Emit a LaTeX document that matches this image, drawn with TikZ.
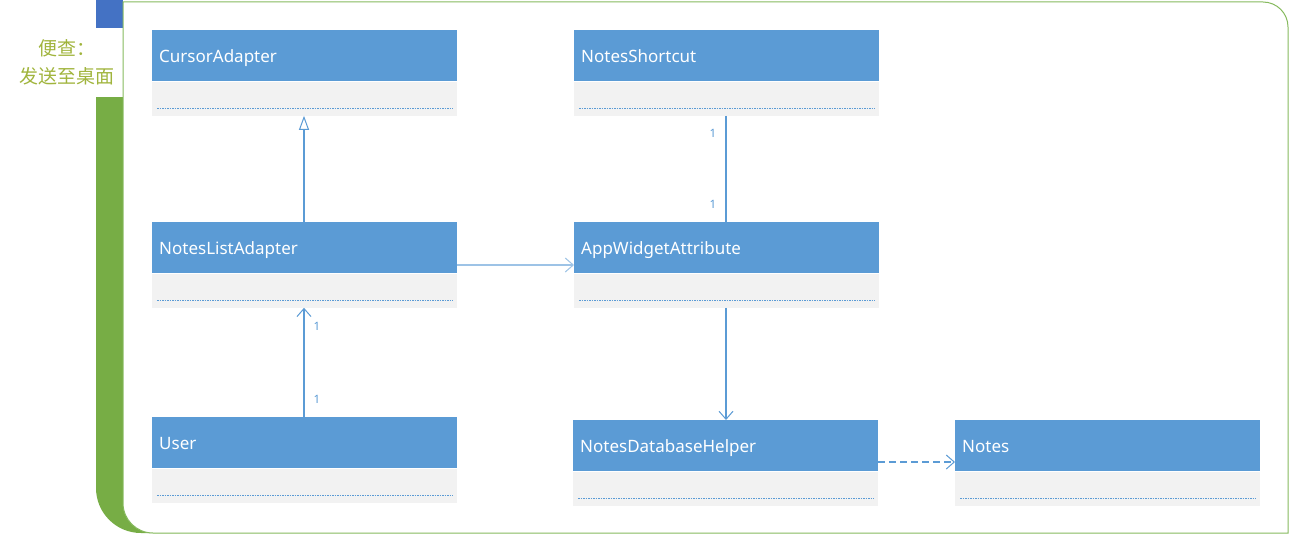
\documentclass[tikz,border=0pt]{standalone}
\usepackage{fontspec}
\setmainfont{Noto Sans}
\newfontfamily\cjk{Noto Sans CJK SC}
\usetikzlibrary{arrows.meta}
\definecolor{hdr}{HTML}{5B9BD5}
\definecolor{cmp}{HTML}{F2F2F2}
\definecolor{lnk}{HTML}{5B9BD5}
\definecolor{lnklight}{HTML}{9DC3E6}
\definecolor{frgreen}{HTML}{77AD45}
\definecolor{frline}{HTML}{86BA5E}
\definecolor{frblue}{HTML}{4472C4}
\definecolor{cjkcol}{RGB}{160,180,60}
\tikzset{
  hdrbox/.style={rectangle, fill=hdr, draw=none, anchor=north west, minimum width=305pt, minimum height=51pt, inner sep=0pt},
  hdrtext/.style={anchor=base west, text=white, font=\fontsize{17}{20}\selectfont, inner sep=0pt},
  cmpbox/.style={rectangle, fill=cmp, draw=none, anchor=north west, minimum width=305pt, minimum height=34pt, inner sep=0pt},
  sep/.style={draw=lnk, line width=0.9pt, dash pattern=on 1.5pt off 1pt},
  conn/.style={draw=lnk, line width=1.1pt},
  openarr/.style={-{Straight Barb[length=8pt,width=14pt,line width=1pt]}},
  genarr/.style={-{Triangle[open,length=14pt,width=10pt,line width=1pt,fill=white]}},
  mult/.style={text=lnk, font=\fontsize{11.5}{12}\selectfont, inner sep=0pt}
}
\newcommand{\umlclass}[4]{%
  \node[hdrbox] (#1) at (#2,#3) {};
  \node[hdrtext] (#1-t) at ([xshift=7pt,yshift=-6.5pt]#1.west) {#4};
  \node[cmpbox] (#1-c) at (#1.south west) {};
  \draw[sep] ([xshift=5pt,yshift=7pt]#1-c.south west) -- ([xshift=-5pt,yshift=7pt]#1-c.south east);
}
\begin{document}
\begin{tikzpicture}[x=1pt,y=-1pt]
\useasboundingbox (0,0) rectangle (1292,535);
% frame
\fill[frblue] (96,0) rectangle (123,28);
\fill[frgreen] (96,97) -- (96,488) .. controls (96,512.9) and (116.1,533) .. (141,533) -- (180,533) -- (180,97) -- cycle;
\filldraw[fill=white, draw=frline, line width=1pt] (123,2) -- (1263,2) .. controls (1276.8,2) and (1288,13.2) .. (1288,27) -- (1288,533) -- (153,533) .. controls (136.4,533) and (123,519.6) .. (123,503) -- cycle;
\node[text=cjkcol, font=\cjk\fontsize{19}{28}\selectfont, align=center, inner sep=0pt] (lbl) at (66.5,62) {便查：\\发送至桌面};
% classes
\umlclass{ca}{152}{30}{CursorAdapter}
\umlclass{ns}{574}{30}{NotesShortcut}
\umlclass{nla}{152}{222}{NotesListAdapter}
\umlclass{awa}{574}{222}{AppWidgetAttribute}
\umlclass{us}{152}{417}{User}
\umlclass{ndh}{573}{420}{NotesDatabaseHelper}
\umlclass{nt}{955}{420}{Notes}
% connectors
\draw[conn, genarr] (nla.north -| 304,0) -- (ca-c.south -| 304,0);
\draw[draw=lnklight, line width=1.3pt, openarr] (nla.east |- 0,265) -- (awa.west |- 0,265);
\draw[conn, openarr] (us.north -| 304,0) -- (nla-c.south -| 304,0);
\node[mult] (m1) at (317,326) {1};
\node[mult] (m2) at (317,399) {1};
\draw[conn] (ns-c.south -| 726,0) -- (awa.north -| 726,0);
\node[mult] (m3) at (713,133) {1};
\node[mult] (m4) at (713,204) {1};
\draw[conn, openarr] (awa-c.south -| 726,0) -- (ndh.north -| 726,0);
\draw[conn, dash pattern=on 7pt off 4pt, openarr] (ndh.east |- 0,462) -- (nt.west |- 0,462);
\end{tikzpicture}
\end{document}
